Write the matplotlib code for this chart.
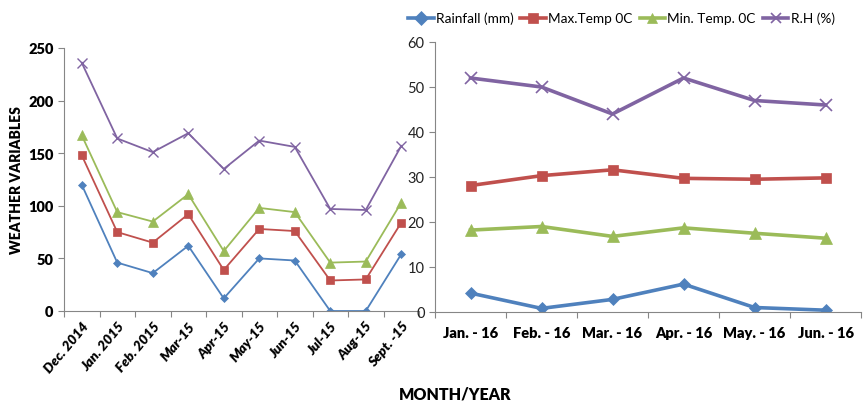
import matplotlib
matplotlib.use("Agg")
import matplotlib.pyplot as plt
from matplotlib.lines import Line2D

plt.rcParams['font.family'] = ['Lato', 'DejaVu Sans']

months1 = ["Dec. 2014", "Jan. 2015", "Feb. 2015", "Mar-15", "Apr-15", "May-15",
           "Jun-15", "Jul-15", "Aug-15", "Sept. -15"]
rain1 = [120, 46, 36, 62, 12, 50, 48, 0, 0, 54]
tmax1 = [148, 75, 65, 92, 39, 78, 76, 29, 30, 84]
tmin1 = [167, 94, 85, 111, 57, 98, 94, 46, 47, 103]
rh1 = [236, 164, 151, 169, 135, 162, 156, 97, 96, 157]

months2 = ["Jan. - 16", "Feb. - 16", "Mar. - 16", "Apr. - 16", "May. - 16", "Jun. - 16"]
rain2 = [4.2, 0.8, 2.8, 6.2, 1.0, 0.4]
tmax2 = [28.1, 30.3, 31.6, 29.7, 29.5, 29.8]
tmin2 = [18.2, 19.0, 16.8, 18.7, 17.5, 16.4]
rh2 = [52, 50, 44, 52, 47, 46]

labels = ["Rainfall (mm)", "Max.Temp 0C", "Min. Temp. 0C", "R.H (%)"]
colors = ["#4F81BD", "#C0504D", "#9BBB59", "#8064A2"]
markers = ["D", "s", "^", "x"]

W, H = 864, 402
fig = plt.figure(figsize=(W/100, H/100), dpi=100)

ax1 = fig.add_axes([64/W, 1-312/H, (419-64)/W, (312-49)/H])
ax2 = fig.add_axes([435/W, 1-313/H, (861-435)/W, (313-43)/H])

gray = "#868686"

def style(ax):
    for s in ["top", "right"]:
        ax.spines[s].set_visible(False)
    for s in ["left", "bottom"]:
        ax.spines[s].set_color(gray)
    ax.tick_params(axis='both', colors=gray, direction='out', length=4)

series1 = [rain1, tmax1, tmin1, rh1]
x1 = list(range(len(months1)))
msz1 = [4.5, 6, 6.5, 6.5]
for s, c, m, ms in zip(series1, colors, markers, msz1):
    ax1.plot(x1, s, color=c, marker=m, markersize=ms, linewidth=1.3,
             markeredgewidth=1.0 if m == 'x' else 0.5)
ax1.set_xlim(-0.5, len(months1) - 0.5)
ax1.set_ylim(0, 250)
ax1.set_yticks([0, 50, 100, 150, 200, 250])
ax1.set_xticks([i - 0.5 for i in range(len(months1) + 1)])
ax1.set_xticklabels([])
ax1.set_xticks(x1, minor=True)
ax1.set_xticklabels(months1, minor=True, rotation=50, ha='right', rotation_mode='anchor',
                    fontsize=10, fontweight='heavy', fontstyle='italic')
style(ax1)
ax1.tick_params(axis='x', which='minor', length=0, pad=6)
for t in ax1.get_yticklabels():
    t.set_fontweight('heavy'); t.set_fontsize(10.5); t.set_color('black')
for t in ax1.get_xticklabels(minor=True):
    t.set_color('black')
ax1.set_ylabel("WEATHER VARIABLES", fontsize=10, fontweight='heavy', labelpad=4)

series2 = [rain2, tmax2, tmin2, rh2]
x2 = list(range(len(months2)))
msz2 = [6.5, 7.5, 8, 8]
for s, c, m, ms in zip(series2, colors, markers, msz2):
    ax2.plot(x2, s, color=c, marker=m, markersize=ms, linewidth=2.6,
             markeredgewidth=1.2 if m == 'x' else 0.5)
ax2.set_xlim(-0.5, len(months2) - 0.5)
ax2.set_ylim(0, 60)
ax2.set_yticks([0, 10, 20, 30, 40, 50, 60])
ax2.set_xticks([i - 0.5 for i in range(len(months2) + 1)])
ax2.set_xticklabels([])
ax2.set_xticks(x2, minor=True)
ax2.set_xticklabels(months2, minor=True, fontsize=10.5, fontweight='heavy')
style(ax2)
ax2.tick_params(axis='x', which='minor', length=0, pad=10)
for t in ax2.get_yticklabels():
    t.set_fontsize(10.5); t.set_color('#222222')
for t in ax2.get_xticklabels(minor=True):
    t.set_color('black')

handles = [Line2D([0], [0], color=c, marker=m, linewidth=2.6, markersize=7.5,
                  markeredgewidth=1.2 if m == 'x' else 0.5)
           for c, m in zip(colors, markers)]
fig.legend(handles, labels, loc='center left', bbox_to_anchor=(408/W, 1-19/H), ncol=4,
           frameon=False, fontsize=9.8, handlelength=1.9, handletextpad=0.15,
           columnspacing=0.5, borderpad=0, borderaxespad=0)

fig.text(455/W, 1-395/H, "MONTH/YEAR", ha='center', va='center', fontsize=11.5,
         fontweight='heavy')

fig.savefig("out.png", dpi=100)
